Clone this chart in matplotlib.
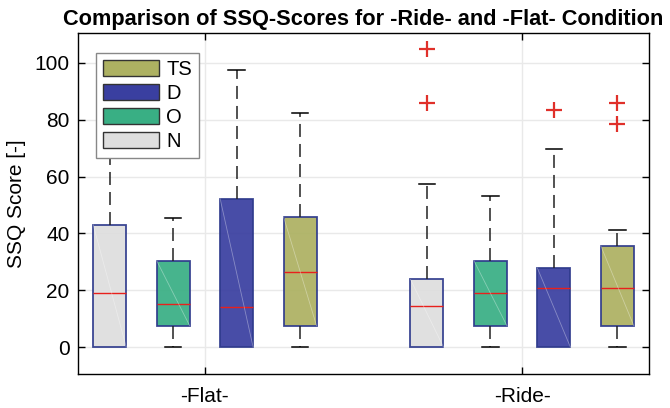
""" Box plot of SSQ scores for the -Flat- and -Ride- conditions """

import matplotlib
matplotlib.use("Agg")
import matplotlib.pyplot as plt
from matplotlib.patches import Patch

conditions = ["-Flat-", "-Ride-"]
groups = ["N", "O", "D", "TS"]
colors = {"N": "#dedede", "O": "#39af84", "D": "#3a3fa0", "TS": "#adb162"}

# box statistics per condition, in the order of groups
whislo = [[0, 0, 0, 0], [0, 0, 0, 0]]
q1 = [[0, 7.5, 0, 7.5], [0, 7.5, 0, 7.5]]
med = [[19.0, 15.1, 14.0, 26.3], [14.3, 18.9, 20.8, 20.8]]
q3 = [[43.0, 30.4, 52.2, 45.8], [23.8, 30.4, 27.8, 35.6]]
whishi = [[76.0, 45.4, 97.4, 82.3], [57.3, 53.2, 69.7, 41.1]]
fliers = [[[], [], [], []], [[105.0, 86.0], [], [83.5], [86.0, 78.5]]]

offsets = [-0.3, -0.1, 0.1, 0.3]
width = 0.104

plt.rcParams["font.family"] = ["Liberation Sans", "DejaVu Sans"]

fig = plt.figure(figsize=(6.7, 4.08), dpi=100)
ax = fig.add_axes([0.1164, 0.0833, 0.8523, 0.8357])

for c in range(len(conditions)):
    for g, name in enumerate(groups):
        stats = [{
            "whislo": whislo[c][g], "q1": q1[c][g], "med": med[c][g],
            "q3": q3[c][g], "whishi": whishi[c][g], "fliers": fliers[c][g],
        }]
        pos = c + 1 + offsets[g]
        bp = ax.bxp(stats, positions=[pos], widths=width, patch_artist=True,
                    capwidths=width / 2, showfliers=True,
                    boxprops=dict(facecolor=colors[name], edgecolor="#2e3a8c",
                                  linewidth=1.3, alpha=0.93),
                    medianprops=dict(color="#e8201c", linewidth=1.0),
                    whiskerprops=dict(color="#222222", linewidth=1.1,
                                      linestyle=(0, (8.5, 4.6))),
                    capprops=dict(color="black", linewidth=1.1),
                    flierprops=dict(marker="+", markeredgecolor="#e0302a",
                                    markersize=12, markeredgewidth=1.6))
        bp["boxes"][0].set_zorder(2)
        # the lower cap sits on the box edge when the whisker has no length
        if whislo[c][g] == q1[c][g]:
            bp["caps"][0].set_visible(False)
            bp["whiskers"][0].set_visible(False)
        # faint diagonal seam across the patch
        ax.plot([pos - width / 2, pos + width / 2], [q3[c][g], q1[c][g]],
                color="white", alpha=0.35, linewidth=0.6, zorder=2.5)

ax.set_xlim(0.6, 2.4)
ax.set_ylim(-9.5, 110.5)
ax.set_xticks([1, 2])
ax.set_xticklabels(conditions)
ax.set_yticks(range(0, 101, 20))
ax.grid(True, color="#e9e9e9", linewidth=1.0)
ax.set_axisbelow(True)
ax.tick_params(direction="in", length=5, width=1, labelsize=15,
               top=True, right=True, pad=6)
ax.tick_params(axis="x", pad=9)
for sp in ax.spines.values():
    sp.set_linewidth(1.0)

ax.set_ylabel("SSQ Score [-]", fontsize=15, labelpad=6)
ax.set_title("Comparison of SSQ-Scores for -Ride- and -Flat- Condition",
             fontsize=15.7, fontweight="bold", pad=6)

handles = [Patch(facecolor=colors[n], edgecolor="#333333", linewidth=1.0, label=n)
           for n in reversed(groups)]
leg = ax.legend(handles=handles, loc="upper left", bbox_to_anchor=(0.0315, 0.941),
                borderaxespad=0, fontsize=14.5, handlelength=2.8, handleheight=0.85,
                handletextpad=0.35, labelspacing=0.25, borderpad=0.35,
                fancybox=False, edgecolor="#888888", framealpha=1)
leg.get_frame().set_linewidth(1.0)

fig.savefig("out.png", dpi=100)
